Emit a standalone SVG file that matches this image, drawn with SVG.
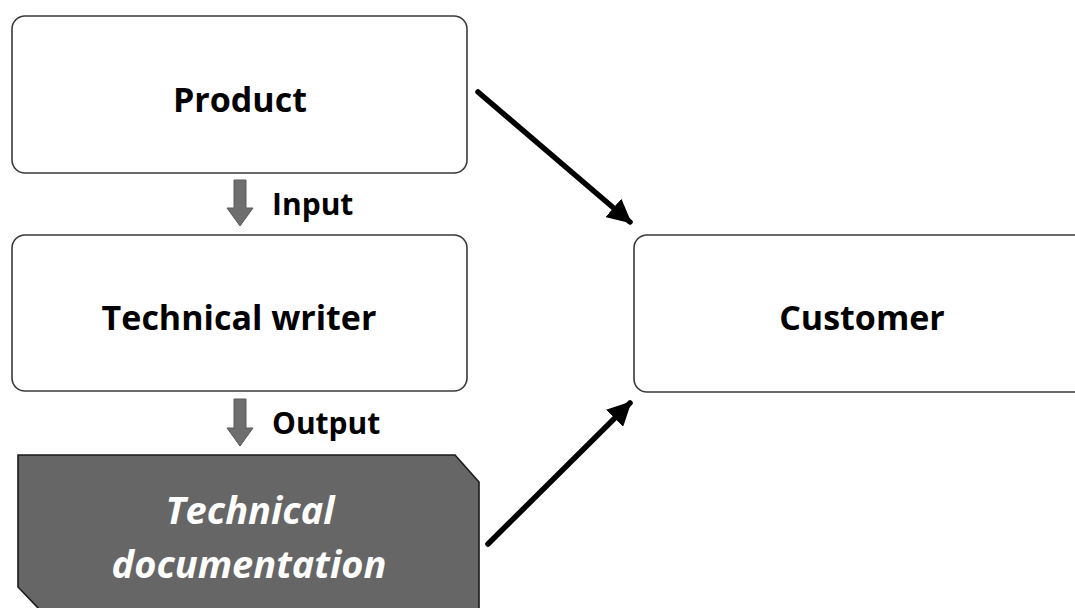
<svg xmlns="http://www.w3.org/2000/svg" width="1075" height="608" viewBox="0 0 1075 608">
  <defs>
    <style>
      .box { fill: #ffffff; stroke: #3a3a3a; stroke-width: 1.6; }
      .doc { fill: #666666; stroke: #1a1a1a; stroke-width: 1.6; }
      .lbl { font-family: "Open Sans", "Liberation Sans", sans-serif; font-weight: 700; fill: #000000; text-anchor: middle; font-size: 34px; }
      .doclbl { font-family: "Open Sans", "Liberation Sans", sans-serif; font-weight: 700; font-style: italic; fill: #ffffff; text-anchor: middle; font-size: 38px; }
      .step { font-family: "Open Sans", "Liberation Sans", sans-serif; font-weight: 700; fill: #000000; font-size: 30px; }
      .flow { fill: #6e6e6e; stroke: #5a5a5a; stroke-width: 1; }
      .conn { stroke: #000000; stroke-width: 5.5; stroke-linecap: round; fill: none; }
    </style>
    <marker id="head" viewBox="0 0 10 10" refX="9" refY="5" markerWidth="4.4" markerHeight="4.4" orient="auto" markerUnits="strokeWidth">
      <path d="M0,0 L10,5 L0,10 z" fill="#000000"/>
    </marker>
  </defs>

  <g id="product">
    <rect class="box" x="12" y="16" width="455" height="157" rx="13"/>
    <text class="lbl" x="240" y="112">Product</text>
  </g>

  <g id="input-step">
    <path class="flow" d="M234,180 H246 V208 H253 L240,226 L227,208 H234 Z"/>
    <text class="step" x="272" y="215">Input</text>
  </g>

  <g id="technical-writer">
    <rect class="box" x="12" y="235" width="455" height="156" rx="13"/>
    <text class="lbl" x="239" y="330">Technical writer</text>
  </g>

  <g id="output-step">
    <path class="flow" d="M234,399 H246 V428 H253 L240,446 L227,428 H234 Z"/>
    <text class="step" x="272" y="434">Output</text>
  </g>

  <g id="technical-documentation">
    <path class="doc" d="M18,455 H455 L479,482 V610 H40 L18,587 Z"/>
    <text class="doclbl" x="250" y="524">Technical</text>
    <text class="doclbl" x="249" y="578">documentation</text>
  </g>

  <g id="customer">
    <rect class="box" x="634" y="235" width="460" height="157" rx="13"/>
    <text class="lbl" x="862" y="330">Customer</text>
  </g>

  <g id="connectors">
    <line class="conn" x1="478" y1="92" x2="630" y2="222" marker-end="url(#head)"/>
    <line class="conn" x1="488" y1="544" x2="630" y2="403" marker-end="url(#head)"/>
  </g>
</svg>
